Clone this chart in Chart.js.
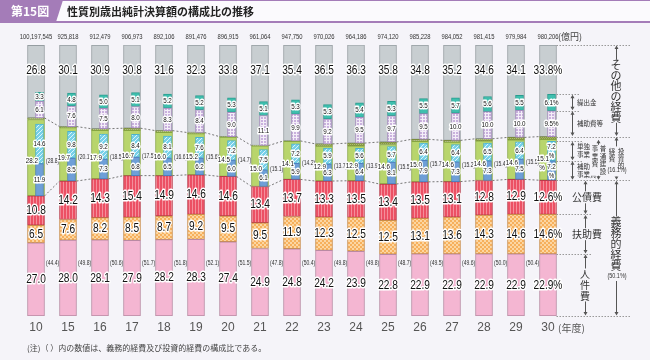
<!DOCTYPE html>
<html>
<head>
<meta charset="utf-8">
<script src="https://cdn.jsdelivr.net/npm/chart.js@4.4.1/dist/chart.umd.min.js"></script>
<style>
  html, body { margin: 0; padding: 0; background: #f5f4f9; }
  canvas { display: block; }
</style>
</head>
<body>
<canvas id="chart" width="650" height="360"></canvas>
<script>
// 年度
const years = ["10", "15", "16", "17", "18", "19", "20", "21", "22", "23", "24", "25", "26", "27", "28", "29", "30"];
// 歳出純計決算額 (億円)
const totals = ["100,197,545", "925,818", "912,479", "906,973", "892,106", "891,476", "896,915", "961,064", "947,750",
  "970,026", "964,186", "974,120", "985,228", "984,052", "981,415", "979,984", "980,206"];

// 構成比 (%)
const personnel = [27.0, 28.0, 28.1, 27.9, 28.2, 28.3, 27.4, 24.9, 24.8, 24.2, 23.9, 22.8, 22.9, 22.9, 22.9, 22.9, 22.9]; // 人件費
const assistance = [6.5, 7.6, 8.2, 8.5, 8.7, 9.2, 9.5, 9.5, 11.9, 12.3, 12.5, 12.5, 13.1, 13.6, 14.3, 14.6, 14.6]; // 扶助費
const debtService = [10.8, 14.2, 14.3, 15.4, 14.9, 14.6, 14.6, 13.4, 13.7, 13.3, 13.5, 13.4, 13.5, 13.1, 12.8, 12.9, 12.6]; // 公債費
const investment = [28.8, 20.1, 18.5, 17.5, 16.6, 15.6, 14.7, 15.1, 14.2, 13.7, 13.9, 15.5, 15.7, 15.2, 15.4, 15.5, 16.1]; // 投資的経費
const construction = [28.2, 19.7, 17.9, 16.7, 16.0, 15.2, 14.5, 15.0, 14.1, 12.9, 12.9, 14.6, 15.0, 14.6, 14.6, 14.6, 15.1]; // 普通建設事業費
const subsidized = [11.9, 8.5, 7.3, 6.8, 6.5, 6.2, 6.0, 6.1, 5.9, 6.3, 6.4, 8.1, 7.9, 7.3, 7.3, 7.5, 7.2]; // 補助事業費
const independent = [14.6, 9.8, 9.2, 8.4, 8.1, 7.6, 7.2, 7.5, 7.2, 5.9, 5.6, 5.7, 6.4, 6.4, 6.5, 6.4, 7.2]; // 単独事業費
const otherExp = [26.8, 30.1, 30.9, 30.8, 31.6, 32.3, 33.8, 37.1, 35.4, 36.5, 36.3, 35.8, 34.8, 35.2, 34.6, 34.1, 33.8]; // その他の経費
const subsidies = [6.1, 7.6, 7.5, 8.0, 8.3, 8.4, 9.0, 11.1, 9.9, 9.2, 9.5, 9.7, 9.5, 10.0, 10.0, 10.0, 9.5]; // 補助費等
const transfers = [3.3, 4.8, 5.0, 5.1, 5.2, 5.2, 5.3, 5.1, 5.3, 5.3, 5.4, 5.3, 5.5, 5.7, 5.6, 5.5, 6.1]; // 繰出金
const mandatory = [44.4, 49.8, 50.6, 51.7, 51.8, 52.1, 51.5, 47.8, 50.4, 49.8, 49.8, 48.7, 49.5, 49.6, 50.0, 50.4, 50.1]; // 義務的経費

const last = years.length - 1;
const BG = "#f5f4f9";
const NUM = '"Liberation Sans", Arial, sans-serif';
const JP = '"Noto Sans CJK JP", sans-serif';
const SQUEEZE = 0.78;

function pattern(w, h, base, cells) {
  const cv = document.createElement("canvas");
  cv.width = w;
  cv.height = h;
  const g = cv.getContext("2d");
  g.fillStyle = base;
  g.fillRect(0, 0, w, h);
  cells.forEach(function(c) {
    g.fillStyle = c[0];
    g.fillRect(c[1], c[2], c[3], c[4]);
  });
  return g.createPattern(cv, "repeat");
}

const orangeFill = pattern(4, 4, "#f6b05c", [["#fcd6a2", 0, 0, 2, 2], ["#fcd6a2", 2, 2, 2, 2]]);
const redFill = pattern(3, 1, "#ec5064", [["#f48e9b", 0, 0, 1, 1]]);
const cyanFill = pattern(4, 4, "#76d0e9", [["#dcf4fb", 3, 0, 1, 1], ["#dcf4fb", 2, 1, 1, 1], ["#dcf4fb", 1, 2, 1, 1], ["#dcf4fb", 0, 3, 1, 1]]);
const purpleFill = pattern(3, 3, "#f4eef8", [["#c9b1dd", 0, 0, 2, 2]]);
const oliveFill = pattern(2, 2, "#879a48", [["#b2c26c", 0, 0, 1, 1], ["#b2c26c", 1, 1, 1, 1]]);

const mk = arr => arr.map((v, i) => ({ x: i, y: v }));

// stacking helpers built from the read values
const lowerSum = personnel.map((v, i) => +(v + assistance[i] + debtService[i]).toFixed(1));
const invRest = investment.map((v, i) => +(v - construction[i]).toFixed(1));
const invGap = investment.map((v, i) => +(v - subsidized[i] - independent[i]).toFixed(1));

// order: lower numbers are painted last, so the narrow bars sit on top
function bar(label, data, bg, border, axis, width, order) {
  return {
    label: label, data: mk(data), backgroundColor: bg, borderColor: border || "rgba(0,0,0,0)",
    borderWidth: border ? 1 : 0, borderSkipped: false,
    xAxisID: axis, stack: axis, grouped: false, order: order,
    barPercentage: 1, categoryPercentage: 1, maxBarThickness: width
  };
}
const outer = (label, data, bg, border) => bar(label, data, bg, border, "x", 17, 1);
const inner = (label, data, bg, border) => bar(label, data, bg, border, "x2", 8, 0);

const datasets = [
  outer("人件費", personnel, "#f4b6d2", "#b98aa3"),          // 0
  outer("扶助費", assistance, orangeFill, "#c98d4a"),        // 1
  outer("公債費", debtService, redFill, "#b83a4a"),          // 2
  outer("普通建設事業費", construction, "#b8d56c", "#86a540"), // 3
  outer("投資的経費(その他)", invRest, oliveFill, "#7a8c3c"),  // 4
  outer("その他の経費", otherExp, "#c8ced1", "#959da1"),      // 5
  inner("", lowerSum, "rgba(0,0,0,0)", null),               // 6
  inner("補助事業費", subsidized, "#6e9fd8", "#4d7fbf"),      // 7
  inner("単独事業費", independent, cyanFill, "#4db3cc"),      // 8
  inner("", invGap, "rgba(0,0,0,0)", null),                 // 9
  inner("補助費等", subsidies, purpleFill, "#a58bbd"),        // 10
  inner("繰出金", transfers, "#3fbfae", "#2a9d8f")            // 11
];

// text drawn narrow, like the condensed face of the original
function num(c, text, x, y, font, align, color, outline) {
  c.save();
  c.font = font;
  c.textBaseline = "middle";
  c.textAlign = "left";
  const w = c.measureText(text).width * SQUEEZE;
  let left = x - w / 2;
  if (align === "left") left = x;
  if (align === "right") left = x - w;
  c.translate(left, y);
  c.scale(SQUEEZE, 1);
  if (outline) {
    c.lineJoin = "round";
    c.lineWidth = 3;
    c.strokeStyle = "#ffffff";
    c.strokeText(text, 0, 0);
  }
  c.fillStyle = color || "#111";
  c.fillText(text, 0, 0);
  c.restore();
}

function halo(c, text, x, y, font, align) {
  num(c, text, x, y, font, align, "#111", true);
}

function plain(c, text, x, y, font, align, color) {
  c.font = font;
  c.textAlign = align || "center";
  c.textBaseline = "middle";
  c.fillStyle = color || "#333";
  c.fillText(text, x, y);
}

function vtext(c, str, x, y0, step, font, mask) {
  const chars = Array.from(str);
  if (mask) {
    c.fillStyle = BG;
    c.fillRect(x - step / 2 - 1, y0 - step / 2, step + 2, step * chars.length);
  }
  c.font = font;
  c.textAlign = "center";
  c.textBaseline = "middle";
  c.fillStyle = "#333";
  chars.forEach(function(ch, k) { c.fillText(ch, x, y0 + k * step); });
}

function arrow(c, x, y1, y2) {
  c.save();
  c.strokeStyle = "#555";
  c.fillStyle = "#555";
  c.lineWidth = 1;
  c.setLineDash([]);
  c.beginPath();
  c.moveTo(x + 0.5, y1 + 2);
  c.lineTo(x + 0.5, y2 - 2);
  c.stroke();
  c.beginPath();
  c.moveTo(x + 0.5, y1 + 0.5); c.lineTo(x - 1.5, y1 + 4); c.lineTo(x + 2.5, y1 + 4); c.closePath();
  c.moveTo(x + 0.5, y2 - 0.5); c.lineTo(x - 1.5, y2 - 4); c.lineTo(x + 2.5, y2 - 4); c.closePath();
  c.fill();
  c.restore();
}

function dotted(c, x1, x2, y) {
  c.beginPath();
  c.moveTo(x1, Math.round(y) + 0.5);
  c.lineTo(x2, Math.round(y) + 0.5);
  c.stroke();
}

function maskText(c, text, x, y, font) {
  c.font = font;
  const w = c.measureText(text).width;
  c.fillStyle = BG;
  c.fillRect(x - w / 2 - 1, y - 6, w + 2, 12);
  plain(c, text, x, y, font, "center", "#333");
}

const decor = {
  id: "decor",
  beforeDraw(chart) {
    const c = chart.ctx;
    c.save();
    c.fillStyle = BG;
    c.fillRect(0, 0, chart.width, chart.height);
    // header
    c.fillStyle = "#fbfafd";
    c.fillRect(0, 0, chart.width, 22);
    c.fillStyle = "#a47cb8";
    c.fillRect(0, 0, chart.width, 1);
    c.fillRect(0, 21, chart.width, 2);
    c.beginPath();
    c.moveTo(0, 0); c.lineTo(63, 0); c.lineTo(56, 22); c.lineTo(0, 22);
    c.closePath();
    c.fill();
    plain(c, "第15図", 11, 11.5, "bold 12px " + JP, "left", "#ffffff");
    plain(c, "性質別歳出純計決算額の構成比の推移", 67, 11.5, "bold 11px " + JP, "left", "#222");
    c.restore();
  },
  afterDatasetsDraw(chart) {
    const c = chart.ctx;
    const meta = k => chart.getDatasetMeta(k).data;
    const area = chart.chartArea;
    const y = chart.scales.y;
    c.save();

    // connecting dotted lines between bars
    c.strokeStyle = "#777";
    c.lineWidth = 1;
    c.setLineDash([2, 2]);
    [2, 4].forEach(function(k) {
      const bars = meta(k);
      for (let i = 0; i < bars.length - 1; i++) {
        const a = bars[i], b = bars[i + 1];
        c.beginPath();
        c.moveTo(a.x + 8.5, a.y);
        c.lineTo(b.x - 8.5, b.y);
        c.stroke();
      }
    });

    // right side guides for the last bar
    const el = k => meta(k)[last];
    const xr = el(0).x + 8.5;
    const y100 = y.getPixelForValue(100), y0 = y.getPixelForValue(0);
    const yPink = el(0).y, yOrange = el(1).y, yRed = el(2).y, yGreen = el(3).y, yInv = el(4).y;
    const yBlue = el(7).y, yCyan = el(8).y, yPurple = el(10).y, yTeal = el(11).y;
    c.strokeStyle = "#999";
    c.setLineDash([1.5, 1.5]);
    dotted(c, xr, 630, y100);
    dotted(c, xr, 580, yTeal);
    dotted(c, xr, 580, yPurple);
    dotted(c, xr, 630, yInv);
    dotted(c, xr, 582, yCyan);
    dotted(c, xr, 582, yBlue);
    dotted(c, xr, 630, yRed);
    dotted(c, xr, 592, yOrange);
    dotted(c, xr, 592, yPink);
    dotted(c, xr, 630, y0);
    c.setLineDash([]);

    arrow(c, 572, yTeal, yPurple);
    arrow(c, 572, yPurple, yInv);
    arrow(c, 572, yCyan, yBlue);
    arrow(c, 572, yBlue, yRed);
    plain(c, "繰出金", 577, (yTeal + yPurple) / 2, "6.5px " + JP, "left");
    plain(c, "補助費等", 577, (yPurple + yInv) / 2, "6.5px " + JP, "left");
    plain(c, "単独", 577, (yCyan + yBlue) / 2 - 4, "6.5px " + JP, "left");
    plain(c, "事業費", 577, (yCyan + yBlue) / 2 + 4, "6.5px " + JP, "left");
    plain(c, "補助", 577, (yBlue + yRed) / 2 - 4, "6.5px " + JP, "left");
    plain(c, "事業費", 577, (yBlue + yRed) / 2 + 4, "6.5px " + JP, "left");

    // 普通建設事業費
    arrow(c, 598, yGreen, yRed);
    const gMid = (yGreen + yRed) / 2;
    c.fillStyle = BG;
    c.fillRect(590, gMid - 15, 18, 31);
    vtext(c, "普通建設", 603, gMid - 11, 7.5, "6.5px " + JP);
    vtext(c, "事業費", 595, gMid - 11, 7.5, "6.5px " + JP);

    // 公債費・扶助費・人件費
    arrow(c, 585, yRed, yOrange);
    arrow(c, 585, yOrange, yPink);
    arrow(c, 585, yPink, y0);
    maskText(c, "公債費", 587, (yRed + yOrange) / 2, "10px " + JP);
    maskText(c, "扶助費", 587, (yOrange + yPink) / 2, "10px " + JP);
    vtext(c, "人件費", 585, (yPink + y0) / 2 - 11, 11, "10px " + JP, true);

    // その他の経費・投資的経費・義務的経費
    arrow(c, 616, y100, yInv);
    arrow(c, 616, yInv, yRed);
    arrow(c, 616, yRed, y0);
    vtext(c, "その他の経費", 616, 65, 10.5, "11px " + JP, true);
    const iMid = (yInv + yRed) / 2;
    c.fillStyle = BG;
    c.fillRect(606, iMid - 12, 22, 30);
    vtext(c, "投資的", 621, iMid - 7, 7, "6.5px " + JP);
    vtext(c, "経費", 612, iMid - 7, 7, "6.5px " + JP);
    num(c, "(" + investment[last].toFixed(1) + "%)", 617, iMid + 12, "7px " + NUM, "center", "#333");
    vtext(c, "義務的経費", 616, 222, 11, "11px " + JP, true);
    c.fillStyle = BG;
    c.fillRect(604, 271, 26, 10);
    num(c, "(" + mandatory[last].toFixed(1) + "%)", 617, 276, "7px " + NUM, "center", "#333");

    // value labels
    const big = "13px " + NUM;
    const small = "8px " + NUM;
    const tiny = "6.5px " + NUM;
    years.forEach(function(yr, i) {
      const pct = i === last ? "%" : "";
      const o = k => meta(k)[i];
      const mid = b => (b.y + b.base) / 2;
      const cx = o(0).x;
      const right = cx + 8.5;

      halo(c, personnel[i].toFixed(1) + pct, cx, mid(o(0)), big);
      halo(c, assistance[i].toFixed(1) + pct, cx, mid(o(1)), big);
      halo(c, debtService[i].toFixed(1) + pct, cx, mid(o(2)), big);
      halo(c, otherExp[i].toFixed(1) + pct, cx, area.top + 25, big);

      // 普通建設事業費
      const gy = mid(o(3)) + 3;
      if (i === last) {
        halo(c, construction[i].toFixed(1), cx + 1, gy - 4, small, "right");
        halo(c, "%", cx - 6, gy + 5, small);
      } else {
        halo(c, construction[i].toFixed(1), cx + 2, gy, small, "right");
        num(c, "(" + investment[i].toFixed(1) + ")", right + 1.5, gy, tiny, "left", "#333");
        num(c, "(" + mandatory[i].toFixed(1) + ")", right + 1.5, area.bottom - 53, tiny, "left", "#333");
      }

      // inner bars
      [[7, subsidized], [8, independent], [10, subsidies], [11, transfers]].forEach(function(p) {
        const b = o(p[0]);
        const txt = p[1][i].toFixed(1);
        if (i === last && (p[0] === 7 || p[0] === 8)) {
          halo(c, txt, b.x, mid(b) - 4, small);
          halo(c, "%", b.x, mid(b) + 5, small);
        } else {
          halo(c, txt + pct, b.x, mid(b), small);
        }
      });

      // totals and year labels
      num(c, totals[i], cx, area.top - 8, "7.5px " + NUM, "center", "#333");
      plain(c, yr, cx, area.bottom + 12, "12px " + NUM, "center", "#555");
    });
    const lx = meta(0)[last].x;
    plain(c, "(億円)", lx + 10, area.top - 8, "9px " + JP, "left", "#444");
    plain(c, "(年度)", lx + 10, area.bottom + 12, "10px " + JP, "left", "#555");
    plain(c, "(注)（ ）内の数値は、義務的経費及び投資的経費の構成比である。", 27, 348, "8px " + JP, "left", "#444");
    c.restore();
  }
};

const unit = 32;
const firstX = 36;
const noTicks = axis => { axis.ticks = []; };

new Chart(document.getElementById("chart"), {
  type: "bar",
  data: { datasets: datasets },
  options: {
    responsive: false,
    animation: false,
    devicePixelRatio: 1,
    layout: { padding: { top: 45, bottom: 44, left: 0, right: 0 } },
    plugins: { legend: { display: false }, tooltip: { enabled: false } },
    scales: {
      x: {
        type: "linear", display: false, stacked: true, offset: false, bounds: "data",
        min: -firstX / unit, max: (650 - firstX) / unit, afterBuildTicks: noTicks
      },
      x2: {
        type: "linear", display: false, stacked: true, offset: false, bounds: "data",
        min: -(firstX + 3.5) / unit, max: (650 - firstX - 3.5) / unit, afterBuildTicks: noTicks
      },
      y: { display: false, stacked: true, min: 0, max: 100 }
    }
  },
  plugins: [decor]
});
</script>
</body>
</html>
